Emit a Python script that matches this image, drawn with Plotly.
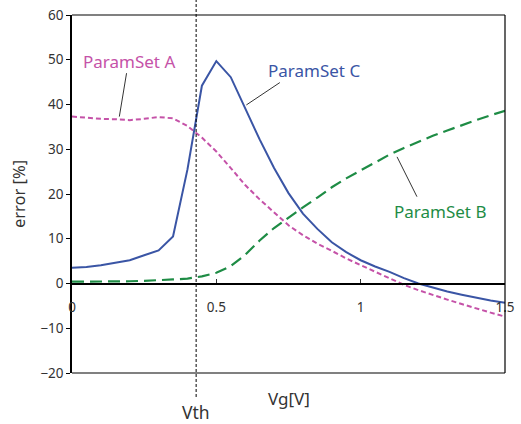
import plotly.graph_objects as go

vg = [0, 0.05, 0.1, 0.15, 0.2, 0.25, 0.3, 0.35, 0.4, 0.45, 0.5, 0.55, 0.6, 0.65, 0.7,
      0.75, 0.8, 0.85, 0.9, 0.95, 1.0, 1.05, 1.1, 1.15, 1.2, 1.25, 1.3, 1.35, 1.4, 1.45, 1.5]

param_a = [37.3, 37.0, 36.8, 36.7, 36.5, 36.8, 37.2, 36.9, 35.2, 32.6, 29.5, 25.8, 22.0, 18.8, 15.8,
           13.0, 10.8, 8.9, 7.3, 5.6, 4.1, 2.6, 1.2, -0.3, -1.5, -2.6, -3.6, -4.6, -5.6, -6.5, -7.4]

param_b = [0.4, 0.4, 0.4, 0.4, 0.5, 0.6, 0.7, 0.9, 1.1, 1.6, 2.4, 3.9, 6.4, 9.6, 12.4,
           14.8, 17.0, 19.2, 21.5, 23.5, 25.3, 27.1, 28.8, 30.3, 31.7, 33.0, 34.2, 35.4, 36.5, 37.6, 38.6]

param_c = [3.5, 3.7, 4.1, 4.6, 5.2, 6.3, 7.4, 10.5, 25.5, 44.2, 49.7, 46.1, 39.2, 32.2, 25.8,
           20.2, 15.6, 12.2, 9.2, 7.0, 5.2, 3.8, 2.6, 1.2, 0.0, -0.9, -1.8, -2.5, -3.2, -3.8, -4.3]

x_ticks = [0, 0.5, 1, 1.5]
x_tick_labels = ["0", "0.5", "1", "1.5"]
y_ticks = [-20, -10, 0, 10, 20, 30, 40, 50, 60]
vth = 0.43

C_A = "#c552a8"
C_B = "#1e8c45"
C_C = "#3a55a5"
FONT = "Noto Sans"

fig = go.Figure()
fig.add_trace(go.Scatter(x=vg, y=param_a, mode="lines", name="ParamSet A",
                         line=dict(color=C_A, width=2, dash="5px,3px")))
fig.add_trace(go.Scatter(x=vg, y=param_b, mode="lines", name="ParamSet B",
                         line=dict(color=C_B, width=2.2, dash="12px,6px")))
fig.add_trace(go.Scatter(x=vg, y=param_c, mode="lines", name="ParamSet C",
                         line=dict(color=C_C, width=2)))

fig.update_layout(
    width=521, height=424,
    margin=dict(l=72, r=16, t=15, b=51),
    paper_bgcolor="white", plot_bgcolor="white",
    showlegend=False,
    font=dict(family=FONT, color="#333333"),
    xaxis=dict(range=[0, 1.5], tickvals=x_ticks, ticktext=x_tick_labels,
               showgrid=False, zeroline=False, showline=True, linecolor="black", linewidth=1.5,
               ticks="inside", ticklen=4, tickcolor="#333333", automargin=False,
               anchor="free", position=0.25, ticklabelstandoff=12,
               tickfont=dict(size=13.5, family=FONT, color="#333333")),
    yaxis=dict(range=[-20, 60], tickvals=y_ticks, showgrid=False, zeroline=False,
               showline=True, linecolor="black", linewidth=1.5, automargin=False,
               ticks="outside", ticklen=4, tickcolor="black",
               tickfont=dict(size=13.5, family=FONT, color="#333333"),
               title=dict(text="error [%]", font=dict(size=16.5, family=FONT, color="#333333"), standoff=11)),
)

# frame
fig.add_shape(type="line", xref="paper", yref="paper", x0=0, x1=1, y0=1, y1=1,
              line=dict(color="#808080", width=2))
fig.add_shape(type="line", xref="paper", yref="paper", x0=0, x1=1, y0=0, y1=0,
              line=dict(color="#808080", width=2))
fig.add_shape(type="line", xref="paper", yref="paper", x0=1, x1=1, y0=0, y1=1,
              line=dict(color="black", width=1.2))
# Vth line
fig.add_shape(type="line", xref="x", yref="paper", x0=vth, x1=vth, y0=-0.067, y1=1.045,
              line=dict(color="black", width=1, dash="3px,2px"))

# labels and leader lines
labels = [
    ("ParamSet A", 0.197, 49.6, C_A, (0.189, 47.0), (0.164, 37.3)),
    ("ParamSet C", 0.837, 47.6, C_C, (0.720, 44.9), (0.604, 39.9)),
    ("ParamSet B", 1.276, 16.0, C_B, (1.126, 28.3), (1.195, 19.4)),
]
for text, lx, ly, col, p0, p1 in labels:
    fig.add_annotation(x=lx, y=ly, xref="x", yref="y", text=text, showarrow=False,
                       xanchor="center", yanchor="middle",
                       font=dict(size=17, family=FONT, color=col))
    fig.add_shape(type="line", xref="x", yref="y", x0=p0[0], y0=p0[1], x1=p1[0], y1=p1[1],
                  line=dict(color="black", width=0.8))

fig.add_annotation(x=0.75, y=-0.072, xref="x", yref="paper", text="Vg[V]", showarrow=False,
                   xanchor="center", yanchor="middle",
                   font=dict(size=17, family=FONT, color="#333333"))
fig.add_annotation(x=vth, y=-0.108, xref="x", yref="paper", text="Vth", showarrow=False,
                   xanchor="center", yanchor="middle",
                   font=dict(size=17.5, family=FONT, color="#333333"))

fig.write_html("out.html")
